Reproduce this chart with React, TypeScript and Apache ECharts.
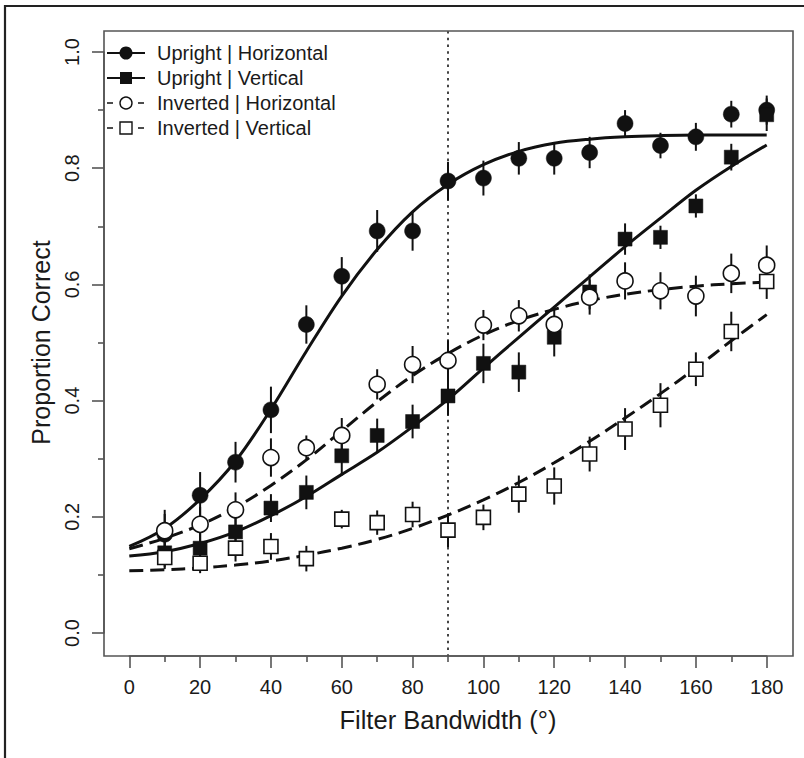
import React, { useEffect, useRef } from "react";
import * as echarts from "echarts";

// ---------- data ----------
const bandwidths = [10, 20, 30, 40, 50, 60, 70, 80, 90, 100, 110, 120, 130, 140, 150, 160, 170, 180];

const uprightHorizontal = [0.17, 0.237, 0.294, 0.384, 0.531, 0.614, 0.692, 0.692, 0.778, 0.783, 0.817, 0.817, 0.827, 0.877, 0.839, 0.854, 0.893, 0.9];
const uprightHorizontalErr = [0.035, 0.04, 0.035, 0.04, 0.033, 0.033, 0.036, 0.034, 0.033, 0.03, 0.028, 0.028, 0.027, 0.023, 0.022, 0.024, 0.023, 0.025];

const uprightVertical = [0.138, 0.146, 0.174, 0.215, 0.242, 0.305, 0.34, 0.364, 0.408, 0.464, 0.449, 0.509, 0.587, 0.678, 0.681, 0.735, 0.819, 0.892];
const uprightVerticalErr = [0.025, 0.03, 0.026, 0.024, 0.029, 0.034, 0.029, 0.029, 0.034, 0.034, 0.034, 0.033, 0.03, 0.027, 0.02, 0.02, 0.023, 0.028];

const invertedHorizontal = [0.176, 0.187, 0.212, 0.302, 0.319, 0.34, 0.428, 0.462, 0.469, 0.53, 0.546, 0.531, 0.578, 0.606, 0.589, 0.58, 0.619, 0.633];
const invertedHorizontalErr = [0.036, 0.03, 0.03, 0.033, 0.021, 0.03, 0.026, 0.032, 0.035, 0.026, 0.027, 0.027, 0.03, 0.032, 0.032, 0.035, 0.034, 0.034];

const invertedVertical = [0.13, 0.12, 0.146, 0.149, 0.128, 0.196, 0.19, 0.204, 0.177, 0.199, 0.239, 0.253, 0.308, 0.351, 0.392, 0.454, 0.519, 0.605];
const invertedVerticalErr = [0.02, 0.017, 0.023, 0.023, 0.022, 0.016, 0.021, 0.022, 0.029, 0.022, 0.032, 0.032, 0.03, 0.036, 0.038, 0.029, 0.034, 0.03];

// fitted curves
const fitX = [0, 10, 20, 30, 40, 50, 60, 70, 80, 90, 100, 110, 120, 130, 140, 150, 160, 170, 180];
const uprightHorizontalFit = [0.149, 0.18, 0.23, 0.296, 0.385, 0.485, 0.58, 0.66, 0.725, 0.772, 0.806, 0.829, 0.843, 0.85, 0.854, 0.856, 0.857, 0.857, 0.857];
const uprightVerticalFit = [0.1325, 0.14, 0.154, 0.174, 0.202, 0.235, 0.273, 0.311, 0.355, 0.402, 0.456, 0.509, 0.561, 0.613, 0.665, 0.714, 0.762, 0.803, 0.84];
const invertedHorizontalFit = [0.145, 0.163, 0.186, 0.216, 0.254, 0.298, 0.348, 0.398, 0.443, 0.481, 0.513, 0.538, 0.557, 0.572, 0.583, 0.591, 0.597, 0.601, 0.604];
const invertedVerticalFit = [0.107, 0.109, 0.112, 0.117, 0.124, 0.134, 0.146, 0.161, 0.18, 0.203, 0.229, 0.259, 0.293, 0.33, 0.37, 0.412, 0.456, 0.503, 0.548];

const referenceBandwidth = 90;

const seriesNames = ["Upright | Horizontal", "Upright | Vertical", "Inverted | Horizontal", "Inverted | Vertical"];
const xTitle = "Filter Bandwidth (°)";
const yTitle = "Proportion Correct";

// ---------- styles ----------
const FONT = "'Liberation Sans', Arial, Helvetica, sans-serif";
const INK = "#111";
const AXIS = "#555";

function pts(xs: number[], ys: number[]) {
  return xs.map((x, i) => [x, ys[i]]);
}
function bars(xs: number[], ys: number[], es: number[]) {
  return xs.map((x, i) => [x, ys[i] - es[i], ys[i] + es[i]]);
}

export default function App() {
  const ref = useRef<HTMLDivElement>(null);

  useEffect(() => {
    document.body.style.margin = "0";
    const chart = echarts.init(ref.current!, null, { renderer: "svg" });

    const errRender = (params: any, api: any) => {
      const x = api.value(0);
      const a = api.coord([x, api.value(1)]);
      const b = api.coord([x, api.value(2)]);
      return {
        type: "line",
        shape: { x1: a[0], y1: a[1], x2: b[0], y2: b[1] },
        style: { stroke: INK, lineWidth: 2 },
      };
    };

    const errSeries = (data: number[][]) => ({
      type: "custom",
      renderItem: errRender,
      data,
      z: 2,
      silent: true,
      clip: false,
    });

    const fitSeries = (data: number[][], dashed: boolean) => ({
      type: "line",
      data,
      smooth: 0.35,
      showSymbol: false,
      symbol: "none",
      z: 3,
      lineStyle: { color: INK, width: 3, type: dashed ? [14, 7] : "solid" },
      silent: true,
    });

    const scatterSeries = (name: string, data: number[][], symbol: string, filled: boolean, size: number, z: number) => ({
      type: "scatter",
      name,
      data,
      symbol,
      symbolSize: size,
      z,
      itemStyle: filled
        ? { color: INK, borderColor: INK, borderWidth: 0.5, opacity: 1 }
        : { color: "#fff", borderColor: INK, borderWidth: 1.6, opacity: 1 },
    });

    const legendRow = (i: number, dashed: boolean, marker: any) => {
      const y = 53 + 25 * i;
      const els: any[] = [];
      if (dashed) {
        els.push({ type: "line", shape: { x1: 107, y1: y, x2: 113, y2: y }, style: { stroke: INK, lineWidth: 1.5 } });
        els.push({ type: "line", shape: { x1: 138, y1: y, x2: 144, y2: y }, style: { stroke: INK, lineWidth: 1.5 } });
      } else {
        els.push({ type: "line", shape: { x1: 107, y1: y, x2: 145, y2: y }, style: { stroke: INK, lineWidth: 1.8 } });
      }
      els.push(marker(y));
      els.push({
        type: "text",
        x: 157,
        y,
        style: { text: seriesNames[i], font: `20px ${FONT}`, fill: "#1a1a1a", verticalAlign: "middle", align: "left" },
      });
      return els;
    };

    const legendEls = [
      ...legendRow(0, false, (y: number) => ({ type: "circle", shape: { cx: 126, cy: y, r: 6.5 }, style: { fill: INK } })),
      ...legendRow(1, false, (y: number) => ({ type: "rect", shape: { x: 120, y: y - 6, width: 12, height: 12 }, style: { fill: INK } })),
      ...legendRow(2, true, (y: number) => ({ type: "circle", shape: { cx: 126, cy: y, r: 6 }, style: { fill: "#fff", stroke: INK, lineWidth: 1.4 } })),
      ...legendRow(3, true, (y: number) => ({ type: "rect", shape: { x: 120, y: y - 6, width: 12, height: 12 }, style: { fill: "#fff", stroke: INK, lineWidth: 1.4 } })),
    ];

    const refLine = {
      type: "custom",
      data: [[referenceBandwidth]],
      z: 1,
      silent: true,
      clip: false,
      renderItem: (params: any, api: any) => {
        const x = api.value(0);
        const a = api.coord([x, 1.036]);
        const b = api.coord([x, -0.04]);
        return {
          type: "line",
          shape: { x1: a[0], y1: a[1], x2: b[0], y2: b[1] },
          style: { stroke: "#444", lineWidth: 2, lineDash: [2.5, 4.2] },
        };
      },
    };

    const tickStyle = { color: AXIS, width: 1.6 };

    chart.setOption({
      animation: false,
      backgroundColor: "#fff",
      grid: { left: 129.3, right: 37.3, top: 52, bottom: 125, containLabel: false },
      xAxis: {
        type: "value",
        min: 0,
        max: 180,
        interval: 20,
        offset: 23,
        name: xTitle,
        nameLocation: "middle",
        nameGap: 51,
        nameTextStyle: { fontFamily: FONT, fontSize: 25.5, color: "#1a1a1a" },
        axisLine: { show: true, onZero: false, lineStyle: tickStyle },
        axisTick: { show: true, inside: false, length: 12, lineStyle: tickStyle },
        minorTick: { show: true, splitNumber: 2, length: 6, lineStyle: tickStyle },
        splitLine: { show: false },
        axisLabel: { fontFamily: FONT, fontSize: 20, color: "#1a1a1a", margin: 21 },
      },
      yAxis: {
        type: "value",
        min: 0,
        max: 1,
        interval: 0.2,
        offset: 25.3,
        name: yTitle,
        nameLocation: "middle",
        nameRotate: 90,
        nameGap: 51,
        nameTextStyle: { fontFamily: FONT, fontSize: 25, color: "#1a1a1a" },
        axisLine: { show: true, onZero: false, lineStyle: tickStyle },
        axisTick: { show: true, inside: false, length: 12, lineStyle: tickStyle },
        minorTick: { show: true, splitNumber: 2, length: 6, lineStyle: tickStyle },
        splitLine: { show: false },
        axisLabel: {
          fontFamily: FONT,
          fontSize: 20,
          color: "#1a1a1a",
          rotate: 90,
          margin: 22,
          formatter: (v: number) => v.toFixed(1),
        },
      },
      graphic: [
        { type: "rect", shape: { x: 5, y: 6, width: 900, height: 900 }, style: { fill: "none", stroke: "#222", lineWidth: 2.2 }, silent: true, z: -10 },
        { type: "rect", shape: { x: 104, y: 31, width: 689, height: 625 }, style: { fill: "none", stroke: AXIS, lineWidth: 1.6 }, silent: true, z: 10 },
        ...legendEls.map((e) => ({ ...e, z: 20, silent: true })),
      ],
      series: [
        refLine,
        errSeries(bars(bandwidths, uprightHorizontal, uprightHorizontalErr)),
        errSeries(bars(bandwidths, uprightVertical, uprightVerticalErr)),
        errSeries(bars(bandwidths, invertedHorizontal, invertedHorizontalErr)),
        errSeries(bars(bandwidths, invertedVertical, invertedVerticalErr)),
        fitSeries(pts(fitX, uprightHorizontalFit), false),
        fitSeries(pts(fitX, uprightVerticalFit), false),
        fitSeries(pts(fitX, invertedHorizontalFit), true),
        fitSeries(pts(fitX, invertedVerticalFit), true),
        scatterSeries(seriesNames[0], pts(bandwidths, uprightHorizontal), "circle", true, 16, 4),
        scatterSeries(seriesNames[1], pts(bandwidths, uprightVertical), "rect", true, 14, 4),
        scatterSeries(seriesNames[2], pts(bandwidths, invertedHorizontal), "circle", false, 16, 5),
        scatterSeries(seriesNames[3], pts(bandwidths, invertedVertical), "rect", false, 14, 5),
      ],
    });

    return () => chart.dispose();
  }, []);

  return <div ref={ref} style={{ width: 804, height: 758 }} />;
}
